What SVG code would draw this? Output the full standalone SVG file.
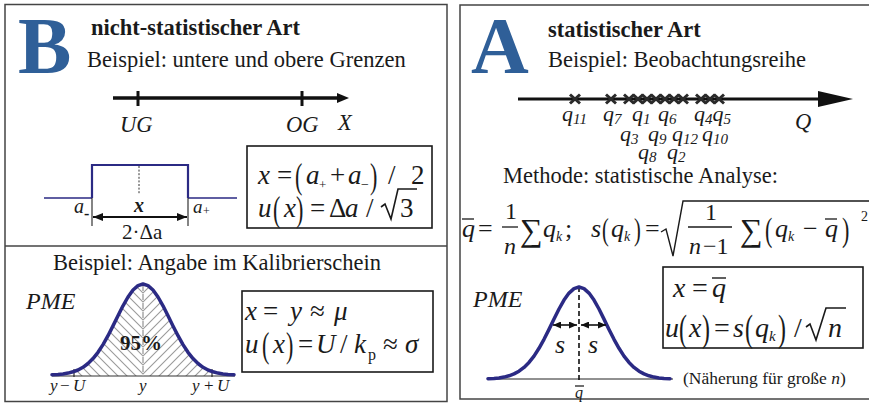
<svg xmlns="http://www.w3.org/2000/svg" width="869" height="405" viewBox="0 0 869 405">
<style>
text{font-family:"Liberation Serif","Times New Roman",serif;fill:#1a1a1a}
.t{font-size:22.5px}
.b{font-weight:bold}
.i{font-style:italic}
.big{font-size:80px;font-weight:bold;fill:#2f5f98}
.m{font-size:27px}
.frame{fill:#fff;stroke:#444;stroke-width:1.5}
.box{fill:none;stroke:#1a1a1a;stroke-width:1.6}
.bell{fill:none;stroke:#2b2a84;stroke-width:3.5;stroke-linejoin:round;stroke-linecap:round}
.thin{stroke:#222;stroke-width:1.1;fill:none}
.mk{stroke:#2a2a2a;stroke-width:3;fill:none}
.sub{font-size:15px}
</style>
<defs>
<marker id="ah" viewBox="0 0 10 8" refX="10" refY="4" markerWidth="10" markerHeight="8" markerUnits="userSpaceOnUse" orient="auto-start-reverse"><path d="M0,0 L10,4 L0,8 Z" fill="#111"/></marker>
<marker id="ahs" viewBox="0 0 8 7" refX="8" refY="3.5" markerWidth="8" markerHeight="7" markerUnits="userSpaceOnUse" orient="auto-start-reverse"><path d="M0,0 L8,3.5 L0,7 Z" fill="#111"/></marker>
<pattern id="hL" patternUnits="userSpaceOnUse" x="143" y="284" width="9" height="9"><path d="M-2,7 L2,11 M0,0 L9,9 M7,-2 L11,2" stroke="#9a9a9a" stroke-width="1.1"/></pattern>
<pattern id="hR" patternUnits="userSpaceOnUse" x="143" y="284" width="9" height="9"><path d="M-2,2 L2,-2 M0,9 L9,0 M7,11 L11,7" stroke="#9a9a9a" stroke-width="1.1"/></pattern>
<path id="x" class="mk" d="M-5,-4.5 L5,4.5 M-5,4.5 L5,-4.5"/>
</defs>

<g id="panel-B">
<rect class="frame" x="5" y="4.5" width="442" height="397"/>
<line x1="5" y1="246" x2="447" y2="246" stroke="#444" stroke-width="1.5"/>
<text class="big" x="18" y="73">B</text>
<text class="t b" x="91" y="35">nicht-statistischer Art</text>
<text class="t" x="87" y="67">Beispiel: untere und obere Grenzen</text>
</g>

<g id="axis-X">
<line x1="113" y1="98" x2="340" y2="98" stroke="#111" stroke-width="3.5"/>
<path d="M337,93 L349,98 L337,103 Z" fill="#111"/>
<line x1="138" y1="91" x2="138" y2="106" stroke="#111" stroke-width="3"/>
<line x1="302" y1="91" x2="302" y2="106" stroke="#111" stroke-width="3"/>
<text class="t i" x="120" y="132">UG</text>
<text class="t i" x="286" y="132">OG</text>
<text class="t i" x="338" y="130">X</text>
</g>

<g id="rect-dist">
<path d="M44,198 H92 M188,198 H237" stroke="#2b2a84" stroke-width="1.3" fill="none"/>
<path d="M92,198 V165 H188 V198" stroke="#2b2a84" stroke-width="2.2" fill="none"/>
<line x1="139" y1="166" x2="139" y2="194" stroke="#333" stroke-width="1" stroke-dasharray="2,1.6"/>
<path class="thin" d="M92,198 V226 M188,198 V226"/>
<line x1="93" y1="217" x2="187" y2="217" stroke="#111" stroke-width="1.8" marker-start="url(#ah)" marker-end="url(#ah)"/>
<text class="i" font-size="20" x="74" y="213">a</text>
<text class="b" font-size="16" x="84" y="219">-</text>
<text class="i b" font-size="20" x="134" y="212">x</text>
<text class="i" font-size="19" x="193" y="213" fill="#444">a</text>
<text font-size="12" x="203" y="215" fill="#444">+</text>
<text font-size="21" x="122" y="239">2·Δa</text>
</g>

<g id="formula-B">
<rect class="box" x="247" y="146" width="185" height="82"/>
<text class="m i" x="258" y="184">x</text>
<text class="m" x="277" y="184">=</text>
<text font-size="26" transform="translate(295,188) scale(0.85,1.35)">(</text>
<text class="m i" x="306" y="184">a</text>
<text font-size="13" x="319" y="189">+</text>
<text class="m" x="330" y="184">+</text>
<text class="m i" x="348" y="184">a</text>
<text font-size="14" x="361" y="189">−</text>
<text font-size="26" transform="translate(370,188) scale(0.85,1.35)">)</text>
<text class="m" x="388" y="184">/</text>
<text class="m" x="411" y="184">2</text>
<text class="m i" x="258" y="217">u</text>
<text font-size="26" transform="translate(273,221) scale(0.85,1.35)">(</text>
<text class="m i" x="284" y="217">x</text>
<text font-size="26" transform="translate(296,221) scale(0.85,1.35)">)</text>
<text class="m" x="310" y="217">=</text>
<text class="m" x="329" y="217">Δ</text>
<text class="m i" x="345" y="217">a</text>
<text class="m" x="366" y="217">/</text>
<path d="M381,207 L385,204 L391,219 L398,189 L417,189" stroke="#1a1a1a" stroke-width="1.6" fill="none"/>
<text class="m" x="400" y="217">3</text>
</g>

<g id="bell-B">
<text class="t" x="53" y="270">Beispiel: Angabe im Kalibrierschein</text>
<text class="i" font-size="24" x="26" y="309">PME</text>
<path d="M73,371.8 L78,370 L83,367.3 L88,363.5 L93,358.6 L98,352.3 L103,344.6 L108,335.7 L113,325.9 L118,315.7 L123,305.8 L128,297 L133,290 L138,285.6 L143,284 L143,376 L73,376 Z" fill="url(#hL)"/>
<path d="M143,284 L148,285.6 L153,290 L158,297 L163,305.8 L168,315.7 L173,325.9 L178,335.7 L183,344.6 L188,352.3 L193,358.6 L198,363.5 L203,367.3 L208,370 L213,371.8 L213,376 L143,376 Z" fill="url(#hR)"/>
<line x1="52" y1="376" x2="235" y2="376" stroke="#333" stroke-width="1"/>
<line x1="143" y1="285" x2="143" y2="376" stroke="#a8a8a8" stroke-width="1.5" stroke-dasharray="6,3"/>
<path class="thin" d="M74,369 V377 M212,369 V377" stroke-width="1.8"/>
<path class="bell" d="M52,374.7 L58,374.4 L63,373.9 L68,373.1 L73,371.8 L78,370 L83,367.3 L88,363.5 L93,358.6 L98,352.3 L103,344.6 L108,335.7 L113,325.9 L118,315.7 L123,305.8 L128,297 L133,290 L138,285.6 L143,284 L148,285.6 L153,290 L158,297 L163,305.8 L168,315.7 L173,325.9 L178,335.7 L183,344.6 L188,352.3 L193,358.6 L198,363.5 L203,367.3 L208,370 L213,371.8 L218,373.1 L223,373.9 L228,374.4 L234,374.7"/>
<text class="b" font-size="21" x="120" y="350">95%</text>
<text class="i" font-size="17" x="50" y="391">y</text>
<text font-size="17" x="60" y="391">−</text>
<text class="i" font-size="17" x="73" y="391">U</text>
<text class="i" font-size="17" x="139" y="391">y</text>
<text class="i" font-size="17" x="192" y="391">y</text>
<text font-size="17" x="204" y="391">+</text>
<text class="i" font-size="17" x="217" y="391">U</text>
</g>

<g id="formula-B2">
<rect class="box" x="242" y="291" width="191" height="81"/>
<text class="m i" x="245" y="320">x</text>
<text class="m" x="263" y="320">=</text>
<text class="m i" x="290" y="320">y</text>
<text class="m" x="310" y="320">≈</text>
<text class="m i" x="334" y="320">μ</text>
<text class="m i" x="245" y="353">u</text>
<text font-size="26" transform="translate(262,357) scale(0.85,1.35)">(</text>
<text class="m i" x="273" y="353">x</text>
<text font-size="26" transform="translate(286,357) scale(0.85,1.35)">)</text>
<text class="m" x="298" y="353">=</text>
<text class="m i" x="316" y="353">U</text>
<text class="m" x="340" y="353">/</text>
<text class="m i" x="354" y="353">k</text>
<text font-size="16" x="368" y="360">p</text>
<text class="m" x="383" y="353">≈</text>
<text class="m i" x="405" y="353">σ</text>
</g>

<g id="panel-A">
<rect class="frame" x="460" y="5" width="430" height="394"/>
<text class="big" x="471" y="73">A</text>
<text class="t b" x="548" y="37">statistischer Art</text>
<text class="t" x="548" y="67">Beispiel: Beobachtungsreihe</text>
</g>

<g id="axis-Q">
<line x1="518" y1="99" x2="822" y2="99" stroke="#111" stroke-width="3"/>
<path d="M818,91 L853,99 L818,107 Z" fill="#111"/>
<use href="#x" x="575" y="99"/>
<use href="#x" x="611" y="99"/>
<use href="#x" x="629" y="99"/>
<use href="#x" x="638" y="99"/>
<use href="#x" x="647" y="99"/>
<use href="#x" x="656" y="99"/>
<use href="#x" x="665" y="99"/>
<use href="#x" x="674" y="99"/>
<use href="#x" x="683" y="99"/>
<use href="#x" x="701" y="99"/>
<use href="#x" x="710" y="99"/>
<use href="#x" x="719" y="99"/>
<g class="i" font-size="22">
<text x="562" y="121">q<tspan class="sub" dy="3">11</tspan></text>
<text x="603" y="121">q<tspan class="sub" dy="3">7</tspan></text>
<text x="632" y="121">q<tspan class="sub" dy="3">1</tspan></text>
<text x="658" y="121">q<tspan class="sub" dy="3">6</tspan></text>
<text x="694" y="121">q<tspan class="sub" dy="3">4</tspan><tspan dy="-3">q</tspan><tspan class="sub" dy="3">5</tspan></text>
<text x="620" y="141">q<tspan class="sub" dy="3">3</tspan></text>
<text x="648" y="141">q<tspan class="sub" dy="3">9</tspan></text>
<text x="672" y="141">q<tspan class="sub" dy="3">12</tspan></text>
<text x="702" y="141">q<tspan class="sub" dy="3">10</tspan></text>
<text x="638" y="159">q<tspan class="sub" dy="3">8</tspan></text>
<text x="667" y="159">q<tspan class="sub" dy="3">2</tspan></text>
</g>
<text class="t i" x="795" y="129">Q</text>
</g>

<g id="formula-A">
<text class="t" x="503" y="183">Methode:  statistische Analyse:</text>
<text class="i" font-size="26" x="462" y="237">q</text>
<line x1="462" y1="219" x2="474" y2="219" stroke="#1a1a1a" stroke-width="1.3"/>
<text font-size="26" x="478" y="237">=</text>
<text font-size="24" x="505" y="219">1</text>
<line x1="502" y1="227" x2="518" y2="227" stroke="#1a1a1a" stroke-width="1.3"/>
<text class="i" font-size="24" x="504" y="254">n</text>
<text font-size="32" x="520" y="241">∑</text>
<text class="i" font-size="26" x="543" y="237">q<tspan font-size="14" dy="4">k</tspan></text>
<text font-size="26" x="565" y="237">;</text>
<text class="i" font-size="26" x="591" y="237">s</text>
<text font-size="24" transform="translate(602,240) scale(0.85,1.3)">(</text>
<text class="i" font-size="26" x="611" y="237">q<tspan font-size="14" dy="4">k</tspan></text>
<text font-size="24" transform="translate(634,240) scale(0.85,1.3)">)</text>
<text font-size="26" x="645" y="237">=</text>
<path d="M661,232 L666,229 L673,256 L683,201 L869,201" stroke="#1a1a1a" stroke-width="1.4" fill="none"/>
<text font-size="24" x="705" y="220">1</text>
<line x1="688" y1="227" x2="732" y2="227" stroke="#1a1a1a" stroke-width="1.3"/>
<text class="i" font-size="24" x="689" y="254">n</text>
<text font-size="24" x="703" y="254">−1</text>
<text font-size="32" x="740" y="241">∑</text>
<text font-size="26" transform="translate(765,241) scale(0.85,1.3)">(</text>
<text class="i" font-size="26" x="775" y="237">q<tspan font-size="14" dy="4">k</tspan></text>
<text font-size="26" x="803" y="237">−</text>
<text class="i" font-size="26" x="825" y="237">q</text>
<line x1="825" y1="219" x2="837" y2="219" stroke="#1a1a1a" stroke-width="1.3"/>
<text font-size="26" transform="translate(842,241) scale(0.85,1.3)">)</text>
<text font-size="14" x="861" y="221">2</text>
</g>

<g id="bell-A">
<text class="i" font-size="24" x="473" y="307">PME</text>
<line x1="488" y1="379" x2="673" y2="379" stroke="#222" stroke-width="1"/>
<line x1="579" y1="287" x2="579" y2="383" stroke="#111" stroke-width="1.6" stroke-dasharray="5,3"/>
<path class="bell" d="M488,378.7 L494,378.4 L499,377.9 L504,377.1 L509,375.8 L514,373.9 L519,371.2 L524,367.4 L529,362.4 L534,356.1 L539,348.3 L544,339.3 L549,329.4 L554,319.1 L559,309 L564,300.1 L569,293.1 L574,288.6 L579,287 L584,288.6 L589,293.1 L594,300.1 L599,309 L604,319.1 L609,329.4 L614,339.3 L619,348.3 L624,356.1 L629,362.4 L634,367.4 L639,371.2 L644,373.9 L649,375.8 L654,377.1 L659,377.9 L664,378.4 L670,378.7"/>
<line x1="553" y1="325" x2="577" y2="325" stroke="#111" stroke-width="1.6" marker-start="url(#ahs)" marker-end="url(#ahs)"/>
<line x1="581" y1="325" x2="606" y2="325" stroke="#111" stroke-width="1.6" marker-start="url(#ahs)" marker-end="url(#ahs)"/>
<text class="i" font-size="26" x="555" y="353">s</text>
<text class="i" font-size="26" x="588" y="353">s</text>
<text class="i" font-size="16" x="575" y="398">q</text>
<line x1="575" y1="386" x2="584" y2="386" stroke="#111" stroke-width="1.2"/>
</g>

<g id="formula-A2">
<rect class="box" x="663" y="267" width="200" height="81"/>
<text class="i" font-size="28" x="673" y="297">x</text>
<text font-size="28" x="692" y="297">=</text>
<text class="i" font-size="28" x="712" y="297">q</text>
<line x1="712" y1="278" x2="726" y2="278" stroke="#1a1a1a" stroke-width="1.4"/>
<text class="i" font-size="28" x="665" y="337">u</text>
<text font-size="28" transform="translate(679,341) scale(0.85,1.35)">(</text>
<text class="i" font-size="28" x="689" y="337">x</text>
<text font-size="28" transform="translate(702,341) scale(0.85,1.35)">)</text>
<text font-size="28" x="714" y="337">=</text>
<text class="i" font-size="28" x="733" y="337">s</text>
<text font-size="28" transform="translate(745,341) scale(0.85,1.35)">(</text>
<text class="i" font-size="28" x="755" y="337">q<tspan font-size="15" dy="4">k</tspan></text>
<text font-size="28" transform="translate(778,341) scale(0.85,1.35)">)</text>
<text font-size="28" x="794" y="337">/</text>
<path d="M806,327 L810,324 L816,340 L826,308 L846,308" stroke="#1a1a1a" stroke-width="1.6" fill="none"/>
<text class="i" font-size="28" x="828" y="337">n</text>
<text font-size="17.5" x="683" y="384">(Näherung für große <tspan font-style="italic">n</tspan>)</text>
</g>
</svg>
